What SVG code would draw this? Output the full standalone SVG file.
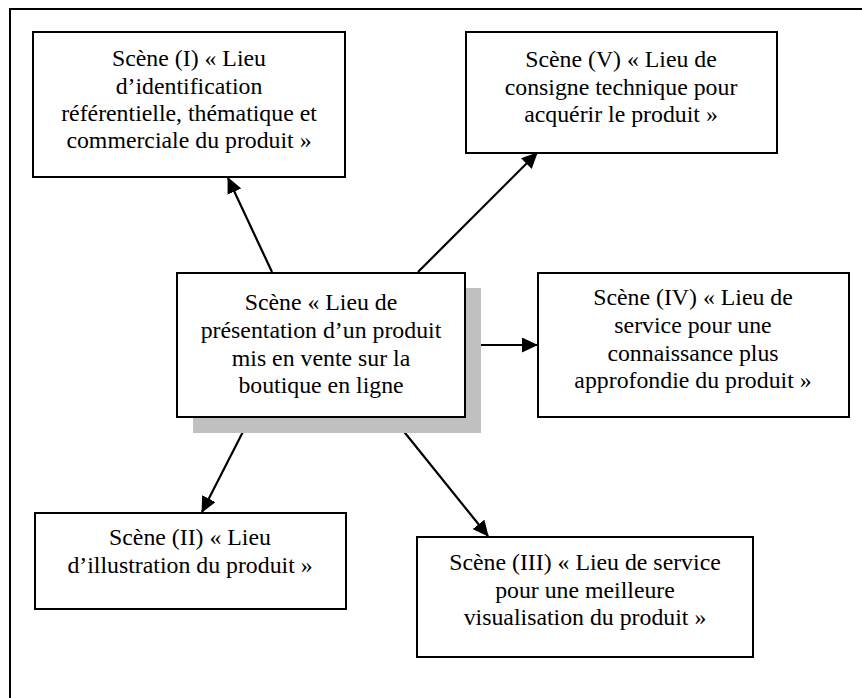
<svg xmlns="http://www.w3.org/2000/svg" width="862" height="698" viewBox="0 0 862 698">
<style>
.box{fill:#fff;stroke:#000;stroke-width:2}
.t{font-family:"Liberation Serif","Times New Roman",serif;font-size:23.8px;fill:#000;text-anchor:middle}
.c{stroke:#000;stroke-width:2.2;fill:none;marker-end:url(#ah)}
</style>
<defs>
<marker id="ah" markerWidth="16" markerHeight="15" refX="15" refY="7.5" orient="auto" markerUnits="userSpaceOnUse" viewBox="0 0 16 15">
<path d="M0,0 L16,7.5 L0,15 Z" fill="#000"/>
</marker>
</defs>
<rect width="862" height="698" fill="#fff"/>
<path d="M862,9 H10 V698" fill="none" stroke="#000" stroke-width="2"/>
<g id="connectors">
<line class="c" x1="272" y1="272" x2="228" y2="178"/>
<line class="c" x1="418" y1="272" x2="537" y2="153"/>
<line class="c" x1="466" y1="345" x2="537" y2="345"/>
<line class="c" x1="250" y1="418" x2="202" y2="512"/>
<line class="c" x1="393" y1="418" x2="488" y2="536"/>
</g>
<g id="center">
<rect x="193" y="288" width="288" height="145" fill="#c0c0c0"/>
<rect class="box" x="177" y="273" width="288" height="144"/>
<text class="t" x="321" y="310">Scène « Lieu de</text>
<text class="t" x="321" y="338">présentation d’un produit</text>
<text class="t" x="321" y="366">mis en vente sur la</text>
<text class="t" x="321" y="393">boutique en ligne</text>
</g>
<g id="scene1">
<rect class="box" x="33" y="32" width="312" height="145"/>
<text class="t" x="189" y="66">Scène (I) « Lieu</text>
<text class="t" x="189" y="94">d’identification</text>
<text class="t" x="189" y="121">référentielle, thématique et</text>
<text class="t" x="189" y="148">commerciale du produit »</text>
</g>
<g id="scene5">
<rect class="box" x="466" y="32" width="311" height="121"/>
<text class="t" x="621" y="67">Scène (V) « Lieu de</text>
<text class="t" x="621" y="95">consigne technique pour</text>
<text class="t" x="621" y="122">acquérir le produit »</text>
</g>
<g id="scene4">
<rect class="box" x="538" y="273" width="311" height="144"/>
<text class="t" x="693" y="305">Scène (IV) « Lieu de</text>
<text class="t" x="693" y="333">service pour une</text>
<text class="t" x="693" y="361">connaissance plus</text>
<text class="t" x="693" y="388">approfondie du produit »</text>
</g>
<g id="scene2">
<rect class="box" x="35" y="513" width="311" height="96"/>
<text class="t" x="190" y="545">Scène (II) « Lieu</text>
<text class="t" x="190" y="573">d’illustration du produit »</text>
</g>
<g id="scene3">
<rect class="box" x="417" y="537" width="336" height="120"/>
<text class="t" x="585" y="570">Scène (III) « Lieu de service</text>
<text class="t" x="585" y="598">pour une meilleure</text>
<text class="t" x="585" y="625">visualisation du produit »</text>
</g>
</svg>
